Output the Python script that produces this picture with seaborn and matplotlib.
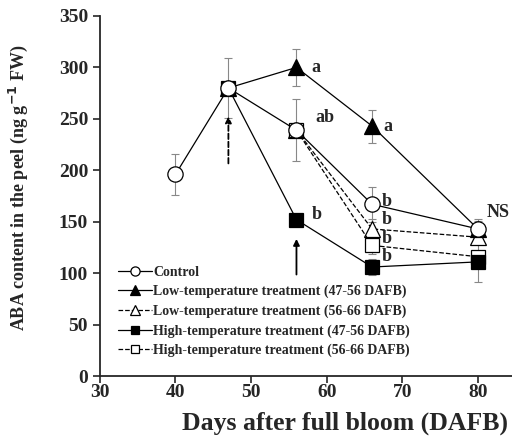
import matplotlib
matplotlib.use("Agg")
import matplotlib.pyplot as plt
import seaborn as sns
import pandas as pd

# data
ctrl_x = [40, 47, 56, 66, 80]
ctrl_y = [196, 280, 239, 167, 143]
ctrl_err = [20, 29, 30, 17, 8]

low1_x = [47, 56, 66, 80]
low1_y = [280, 300, 243, 143]
low1_err = [0, 18, 16, 10]

low2_x = [56, 66, 80]
low2_y = [239, 143, 135]
low2_err = [0, 10, 6]

high1_x = [47, 56, 66, 80]
high1_y = [280, 152, 106, 111]
high1_err = [0, 5, 8, 20]

high2_x = [56, 66, 80]
high2_y = [239, 127, 116]
high2_err = [0, 8, 6]

labels = ["Control",
          "Low-temperature treatment (47-56 DAFB)",
          "Low-temperature treatment (56-66 DAFB)",
          "High-temperature treatment (47-56 DAFB)",
          "High-temperature treatment (56-66 DAFB)"]

letters = [(58, 300, "a"), (67.5, 243, "a"), (58.5, 251, "ab"), (58, 157, "b"),
           (67.3, 170, "b"), (67.3, 152, "b"), (67.3, 134, "b"), (67.3, 116, "b"),
           (81.2, 159, "NS")]

sns.set_style("ticks")
plt.rcParams['font.family'] = ['Liberation Serif', 'DejaVu Serif']
plt.rcParams['font.weight'] = 'bold'
plt.rcParams['axes.labelweight'] = 'bold'

fig = plt.figure(figsize=(5.12, 4.44), dpi=100)
ax = fig.add_axes([0.195, 0.153, 0.805, 0.811])

series = [
    (ctrl_x, ctrl_y, ctrl_err, 'o', 'white', '-', 11, 5),
    (low1_x, low1_y, low1_err, '^', 'black', '-', 11, 4),
    (low2_x, low2_y, low2_err, '^', 'white', '--', 11, 3),
    (high1_x, high1_y, high1_err, 's', 'black', '-', 10, 4),
    (high2_x, high2_y, high2_err, 's', 'white', '--', 10, 3),
]

for i, (xs, ys, es, mk, fc, ls, ms, z) in enumerate(series):
    df = pd.DataFrame({"x": xs, "y": ys})
    # error bars (skip the shared start point)
    ex = [x for x, e in zip(xs, es) if e > 0]
    ey = [y for y, e in zip(ys, es) if e > 0]
    ee = [e for e in es if e > 0]
    ax.errorbar(ex, ey, yerr=ee, fmt='none', ecolor='#888888', elinewidth=0.8,
                capsize=3, capthick=0.8, zorder=1)
    sns.lineplot(data=df, x="x", y="y", ax=ax, color='black', linestyle=ls,
                 linewidth=0.9, marker=mk, markersize=ms, markerfacecolor=fc,
                 markeredgecolor='black', markeredgewidth=0.9, label=labels[i],
                 zorder=z)

# arrows
ax.annotate("", xy=(47, 255), xytext=(47, 204),
            arrowprops=dict(arrowstyle="-|>", color='black', lw=1.3,
                            linestyle=(0, (3, 1.5)), mutation_scale=9))
ax.annotate("", xy=(56, 136), xytext=(56, 96),
            arrowprops=dict(arrowstyle="-|>", color='black', lw=1.3,
                            mutation_scale=9))

for x, y, t in letters:
    ax.text(x, y, t, fontsize=13, fontweight='bold', va='center', ha='left')

ax.set_xlim(30, 84.5)
ax.set_ylim(0, 350)
ax.set_xticks([30, 40, 50, 60, 70, 80])
ax.set_yticks(range(0, 351, 50))
ax.tick_params(labelsize=14, width=1.2, length=5, direction='out')
ax.tick_params(axis='x', pad=1)
for t in ax.get_xticklabels() + ax.get_yticklabels():
    t.set_fontweight('bold')
for s in ['left', 'bottom']:
    ax.spines[s].set_linewidth(1.3)
sns.despine(ax=ax)

ax.set_xlabel("Days after full bloom (DAFB)", fontsize=18.5)
ax.xaxis.set_label_coords(0.595, -0.098)
ax.set_ylabel("ABA content in the peel (ng g$^{\\mathbf{-1}}$ FW)", fontsize=13, labelpad=6)
ax.yaxis.set_label_coords(-0.17, 0.522)

leg = ax.legend(loc='upper left', bbox_to_anchor=(0.045, 0.307), frameon=False,
                fontsize=10, markerscale=0.6, handlelength=2.4, handletextpad=0.1,
                labelspacing=0.45, borderaxespad=0, borderpad=0)
for t in leg.get_texts():
    t.set_fontweight('bold')

fig.savefig("out.png", dpi=100)
